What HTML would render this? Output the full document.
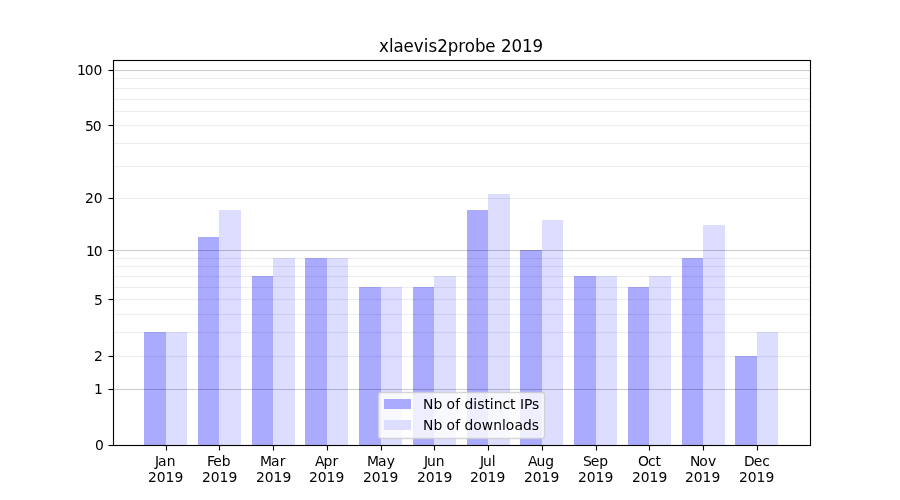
<!DOCTYPE html>
<html lang="en">
<head>
<meta charset="utf-8">
<title>xlaevis2probe 2019</title>
<style>
  html, body { margin: 0; padding: 0; background: #ffffff; }
  body { width: 900px; height: 500px; overflow: hidden; }
  svg { display: block; }
  text { font-family: "DejaVu Sans", "Liberation Sans", sans-serif; font-size: 13.889px; fill: #000000; }
  .title { font-size: 16.667px; }
  .dark { fill: #aaaaff; }
  .light { fill: #ddddff; }
  .major { fill: #000000; fill-opacity: 0.2; }
  .minor { fill: #000000; fill-opacity: 0.07; }
  .ink { fill: #000000; }
</style>
</head>
<body>
<svg width="900" height="500" viewBox="0 0 900 500">
<defs>
  <!-- identity filter: forces text to be rasterised with greyscale anti-aliasing -->
  <filter id="gray" filterUnits="userSpaceOnUse" x="0" y="0" width="900" height="500" color-interpolation-filters="sRGB"><feOffset dx="0" dy="0"/></filter>
</defs>
<rect x="0" y="0" width="900" height="500" fill="#ffffff"/>

<!-- bars: number of distinct IPs -->
<g class="dark" shape-rendering="crispEdges">
<rect x="144" y="332" width="22" height="113"/>
<rect x="198" y="237" width="21" height="208"/>
<rect x="252" y="276" width="21" height="169"/>
<rect x="305" y="258" width="22" height="187"/>
<rect x="359" y="287" width="22" height="158"/>
<rect x="413" y="287" width="21" height="158"/>
<rect x="467" y="210" width="21" height="235"/>
<rect x="520" y="250" width="22" height="195"/>
<rect x="574" y="276" width="22" height="169"/>
<rect x="628" y="287" width="21" height="158"/>
<rect x="682" y="258" width="21" height="187"/>
<rect x="735" y="356" width="22" height="89"/>
</g>
<!-- bars: number of downloads -->
<g class="light" shape-rendering="crispEdges">
<rect x="166" y="332" width="21" height="113"/>
<rect x="219" y="210" width="22" height="235"/>
<rect x="273" y="258" width="22" height="187"/>
<rect x="327" y="258" width="21" height="187"/>
<rect x="381" y="287" width="21" height="158"/>
<rect x="434" y="276" width="22" height="169"/>
<rect x="488" y="194" width="22" height="251"/>
<rect x="542" y="220" width="21" height="225"/>
<rect x="596" y="276" width="21" height="169"/>
<rect x="649" y="276" width="22" height="169"/>
<rect x="703" y="225" width="22" height="220"/>
<rect x="757" y="332" width="21" height="113"/>
</g>
<!-- horizontal grid (drawn above the bars) -->
<g class="minor">
<rect x="113" y="355.945" width="697" height="1.11"/>
<rect x="113" y="331.945" width="697" height="1.11"/>
<rect x="113" y="313.945" width="697" height="1.11"/>
<rect x="113" y="298.945" width="697" height="1.11"/>
<rect x="113" y="286.945" width="697" height="1.11"/>
<rect x="113" y="275.945" width="697" height="1.11"/>
<rect x="113" y="265.945" width="697" height="1.11"/>
<rect x="113" y="257.945" width="697" height="1.11"/>
<rect x="113" y="197.945" width="697" height="1.11"/>
<rect x="113" y="165.945" width="697" height="1.11"/>
<rect x="113" y="142.945" width="697" height="1.11"/>
<rect x="113" y="124.945" width="697" height="1.11"/>
<rect x="113" y="110.945" width="697" height="1.11"/>
<rect x="113" y="98.945" width="697" height="1.11"/>
<rect x="113" y="87.945" width="697" height="1.11"/>
<rect x="113" y="77.945" width="697" height="1.11"/>
</g>
<g class="major">
<rect x="113" y="388.945" width="697" height="1.11"/>
<rect x="113" y="249.945" width="697" height="1.11"/>
<rect x="113" y="69.945" width="697" height="1.11"/>
</g>
<!-- tick marks -->
<g class="ink">
<rect x="108.5" y="444.945" width="5" height="1.11"/>
<rect x="108.5" y="388.945" width="5" height="1.11"/>
<rect x="108.5" y="355.945" width="5" height="1.11"/>
<rect x="108.5" y="298.945" width="5" height="1.11"/>
<rect x="108.5" y="249.945" width="5" height="1.11"/>
<rect x="108.5" y="197.945" width="5" height="1.11"/>
<rect x="108.5" y="124.945" width="5" height="1.11"/>
<rect x="108.5" y="69.945" width="5" height="1.11"/>
<rect x="165.945" y="445.5" width="1.11" height="5"/>
<rect x="218.945" y="445.5" width="1.11" height="5"/>
<rect x="272.945" y="445.5" width="1.11" height="5"/>
<rect x="326.945" y="445.5" width="1.11" height="5"/>
<rect x="380.945" y="445.5" width="1.11" height="5"/>
<rect x="433.945" y="445.5" width="1.11" height="5"/>
<rect x="487.945" y="445.5" width="1.11" height="5"/>
<rect x="541.945" y="445.5" width="1.11" height="5"/>
<rect x="595.945" y="445.5" width="1.11" height="5"/>
<rect x="648.945" y="445.5" width="1.11" height="5"/>
<rect x="702.945" y="445.5" width="1.11" height="5"/>
<rect x="756.945" y="445.5" width="1.11" height="5"/>
</g>
<!-- axes frame -->
<rect x="113.5" y="60.5" width="697" height="385" fill="none" stroke="#000000" stroke-width="1.11"/>
<!-- legend box and swatches -->
<rect x="378.5" y="392.5" width="166" height="46" rx="2.78" ry="2.78" fill="#ffffff" fill-opacity="0.8" stroke="#cccccc" stroke-opacity="0.8" stroke-width="1.389"/>
<rect class="dark" shape-rendering="crispEdges" x="384" y="399" width="27" height="10"/>
<rect class="light" shape-rendering="crispEdges" x="384" y="420" width="27" height="10"/>
<!-- all text (title, tick labels, legend labels) -->
<g filter="url(#gray)">
<text x="95.03" y="450.00">0</text>
<text x="93.91" y="394.00">1</text>
<text x="94.03" y="361.00">2</text>
<text x="94.03" y="305.00">5</text>
<text x="85.91 93.73" y="256.00">10</text>
<text x="85.03 93.86" y="203.00">20</text>
<text x="85.03 92.86" y="131.00">50</text>
<text x="76.91 84.73 93.56" y="75.00">100</text>
<text x="155.01 158.10 166.86" y="466.00">Jan</text>
<text x="148.07 156.65 165.48 174.56" y="482.00">2019</text>
<text x="207.12 213.35 221.64" y="466.00">Feb</text>
<text x="202.06 210.64 219.47 228.54" y="482.00">2019</text>
<text x="259.98 270.96 279.71" y="466.00">Mar</text>
<text x="256.05 264.63 273.45 282.53" y="482.00">2019</text>
<text x="315.10 323.59 332.40" y="466.00">Apr</text>
<text x="309.03 317.86 326.44 335.52" y="482.00">2019</text>
<text x="366.96 377.93 386.68" y="466.00">May</text>
<text x="363.02 371.85 380.43 389.50" y="482.00">2019</text>
<text x="423.88 426.97 435.77" y="466.00">Jun</text>
<text x="417.01 425.83 434.41 443.49" y="482.00">2019</text>
<text x="480.06 482.90 491.69" y="466.00">Jul</text>
<text x="469.99 478.82 487.40 496.48" y="482.00">2019</text>
<text x="528.04 536.53 545.33" y="466.00">Aug</text>
<text x="523.98 532.81 541.38 550.46" y="482.00">2019</text>
<text x="583.03 590.84 599.37" y="466.00">Sep</text>
<text x="577.97 586.79 595.62 604.45" y="482.00">2019</text>
<text x="638.08 648.00 655.38" y="466.00">Oct</text>
<text x="631.95 640.78 649.61 658.44" y="482.00">2019</text>
<text x="690.00 699.13 708.12" y="466.00">Nov</text>
<text x="684.94 693.77 702.59 711.42" y="482.00">2019</text>
<text x="744.11 753.80 762.33" y="466.00">Dec</text>
<text x="738.93 747.75 756.58 765.41" y="482.00">2019</text>
<text class="title" x="378.94 389.03 393.40 403.58 413.81 423.65 428.52 437.18 447.76 458.31 464.77 474.94 485.25 495.73 501.01 511.59 521.91 532.49" y="52.00" transform="translate(0 52) scale(1 1.06) translate(0 -52)">xlaevis2probe 2019</text>
<text x="423.07 433.45 442.26 446.42 455.16 460.04 464.45 473.26 477.36 484.59 489.78 493.64 502.43 510.06 515.50 519.91 524.00 532.12" y="409.00">Nb of distinct IPs</text>
<text x="423.07 433.45 442.26 446.42 455.16 460.04 464.45 473.26 481.75 493.35 501.89 505.74 514.48 522.99 531.79" y="430.00">Nb of downloads</text>
</g>
</svg>
</body>
</html>
